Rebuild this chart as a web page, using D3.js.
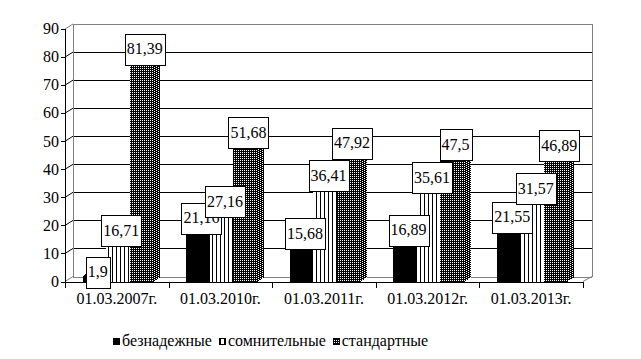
<!DOCTYPE html>
<html><head><meta charset="utf-8">
<script src="https://cdn.jsdelivr.net/npm/d3@7"></script>
</head>
<body style="margin:0;background:#fff"><svg id="c" width="641" height="359" style="font-family:'Liberation Serif'"></svg>
<script>
const categories = ["01.03.2007г.", "01.03.2010г.", "01.03.2011г.", "01.03.2012г.", "01.03.2013г."];
const seriesNames = ["безнадежные", "сомнительные", "стандартные"];
const hopeless = [1.9, 21.16, 15.68, 16.89, 21.55];
const doubtful = [16.71, 27.16, 36.41, 35.61, 31.57];
const standard = [81.39, 51.68, 47.92, 47.5, 46.89];
const labelText = [
  ["1,9", "21,16", "15,68", "16,89", "21,55"],
  ["16,71", "27,16", "36,41", "35,61", "31,57"],
  ["81,39", "51,68", "47,92", "47,5", "46,89"]
];
const yTicks = [0,10,20,30,40,50,60,70,80,90];
const seriesValues = [hopeless, doubtful, standard];

const svg = d3.select("#c");
const defs = svg.append("defs");
const pS = defs.append("pattern").attr("id","stripes").attr("patternUnits","userSpaceOnUse").attr("width",4).attr("height",4);
pS.append("rect").attr("width",4).attr("height",4).attr("fill","#fff");
pS.append("rect").attr("x",0).attr("width",1).attr("height",4).attr("fill","#000");
const pD = defs.append("pattern").attr("id","dots").attr("patternUnits","userSpaceOnUse").attr("width",2).attr("height",2);
pD.append("rect").attr("width",2).attr("height",2).attr("fill","#000");
pD.append("rect").attr("x",0).attr("y",0).attr("width",1).attr("height",1).attr("fill","#fff");
const pD2 = defs.append("pattern").attr("id","dotsDark").attr("patternUnits","userSpaceOnUse").attr("width",4).attr("height",2);
pD2.append("rect").attr("width",4).attr("height",2).attr("fill","#000");
pD2.append("rect").attr("x",0).attr("y",0).attr("width",1).attr("height",1).attr("fill","#fff");
pD2.append("rect").attr("x",2).attr("y",1).attr("width",1).attr("height",1).attr("fill","#fff");
const fills = ["#000", "url(#stripes)", "url(#dots)"];
const sideFills = ["#000", "url(#stripes)", "url(#dotsDark)"];

const left = 65, right = 583;
const DX = 8, DY = -5;
const BDX = 7, BDY = -4.5;
const y = d3.scaleLinear().domain([0,90]).range([281.5, 29]);
const x0 = d3.scaleBand().domain(categories).range([left, right]).paddingInner(0).paddingOuter(0);
const groupW = 70.5;
const x1 = d3.scaleBand().domain(seriesNames).range([0, groupW]);
const gOff = (x0.bandwidth() - groupW) / 2 + 1;

const txt = (sel) => sel.append("text").style("font-family", "Liberation Serif").attr("font-size", 16).attr("fill","#000");

const g = svg.append("g").attr("shape-rendering","crispEdges");
const wallL = left + DX, wallR = right + DX + 1;
yTicks.forEach(t => {
  if (t === 0 || t === 90) return;
  const yf = y(t), yb = y(t) + DY;
  g.append("line").attr("x1",wallL).attr("x2",wallR).attr("y1",Math.round(yb)+0.5).attr("y2",Math.round(yb)+0.5).attr("stroke","#000");
  svg.append("line").attr("x1",left).attr("y1",yf).attr("x2",wallL).attr("y2",yb).attr("stroke","#000");
});
const gray = "#808080";
g.append("line").attr("x1",wallL+0.5).attr("x2",wallL+0.5).attr("y1",y(90)+DY).attr("y2",y(0)+DY).attr("stroke",gray);
g.append("line").attr("x1",wallL).attr("x2",wallR).attr("y1",Math.round(y(90)+DY)+0.5).attr("y2",Math.round(y(90)+DY)+0.5).attr("stroke",gray);
g.append("line").attr("x1",wallR+0.5).attr("x2",wallR+0.5).attr("y1",y(90)+DY).attr("y2",y(0)+DY).attr("stroke",gray);
g.append("line").attr("x1",wallL).attr("x2",wallR).attr("y1",Math.round(y(0)+DY)+0.5).attr("y2",Math.round(y(0)+DY)+0.5).attr("stroke",gray);
svg.append("line").attr("x1",left).attr("y1",y(90)).attr("x2",wallL).attr("y2",y(90)+DY).attr("stroke",gray);
svg.append("line").attr("x1",left).attr("y1",y(0)).attr("x2",wallL).attr("y2",y(0)+DY).attr("stroke",gray);
svg.append("line").attr("x1",right).attr("y1",y(0)).attr("x2",wallR).attr("y2",y(0)+DY).attr("stroke",gray);

const bars = svg.append("g").attr("shape-rendering","crispEdges");
categories.forEach((c, i) => {
  seriesNames.forEach((s, k) => {
    const v = seriesValues[k][i];
    const xl = Math.round(x0(c) + gOff + x1(s));
    const xr = Math.round(x0(c) + gOff + x1(s) + x1.bandwidth());
    const yt = Math.round(y(v)), yb = Math.round(y(0));
    bars.append("polygon").attr("points", [[xr,yt],[xr+BDX,yt+BDY],[xr+BDX,yb+BDY],[xr,yb]].map(p=>p.join(",")).join(" ")).attr("fill", sideFills[k]);
    bars.append("polygon").attr("points", [[xl,yt],[xl+BDX,yt+BDY],[xr+BDX,yt+BDY],[xr,yt]].map(p=>p.join(",")).join(" ")).attr("fill", fills[k]);
    bars.append("rect").attr("x",xl).attr("y",yt).attr("width",xr-xl).attr("height",yb-yt).attr("fill",fills[k]);
  });
});

const ax = svg.append("g").attr("shape-rendering","crispEdges");
ax.append("line").attr("x1",left+0.5).attr("x2",left+0.5).attr("y1",y(90)).attr("y2",y(0)+1).attr("stroke","#000");
ax.append("line").attr("x1",left).attr("x2",right+1).attr("y1",Math.round(y(0))+0.5).attr("y2",Math.round(y(0))+0.5).attr("stroke","#000");
yTicks.forEach(t => {
  const yy = Math.round(y(t)) + 0.5;
  ax.append("line").attr("x1",left-4).attr("x2",left).attr("y1",yy).attr("y2",yy).attr("stroke","#000");
  txt(svg).attr("x",59).attr("y",y(t)).attr("dy","0.33em").attr("text-anchor","end").text(t);
});
const bounds = categories.map(c => x0(c)).concat([right]);
bounds.forEach(b => {
  const xx = Math.round(b) + 0.5;
  ax.append("line").attr("x1",xx).attr("x2",xx).attr("y1",y(0)).attr("y2",y(0)+6).attr("stroke","#000");
});
categories.forEach(c => {
  txt(svg).attr("x", x0(c) + x0.bandwidth()/2).attr("y",304).attr("text-anchor","middle").text(c);
});

const lab = svg.append("g");
seriesNames.forEach((s, k) => {
  categories.forEach((c, i) => {
    const v = seriesValues[k][i];
    const cx = x0(c) + gOff + x1(s) + x1.bandwidth()/2 + 3.5;
    const cy = y(v) - 4;
    const gg = lab.append("g");
    const r = gg.append("rect").attr("fill","#fff").attr("stroke","#000").attr("shape-rendering","crispEdges");
    const t = txt(gg).attr("x",cx).attr("y",cy).attr("dy","0.33em").attr("text-anchor","middle").text(labelText[k][i]);
    const tw = t.node().getComputedTextLength();
    const w = Math.round(tw + 4), h = 31;
    r.attr("x", Math.round(cx - w/2) + 0.5).attr("y", Math.round(cy - h/2) + 0.5).attr("width", w).attr("height", h);
  });
});

const leg = svg.append("g");
let lx = 113;
const legY = 346;
seriesNames.forEach((s, k) => {
  leg.append("rect").attr("x", lx + 0.5).attr("y", legY - 8 + 0.5).attr("width", 6).attr("height", 6)
    .attr("fill", fills[k]).attr("stroke","#000").attr("shape-rendering","crispEdges");
  const t = txt(leg).attr("x", lx + 9).attr("y", legY).text(s);
  lx += 9 + t.node().getComputedTextLength() + 7;
});
</script></body></html>
